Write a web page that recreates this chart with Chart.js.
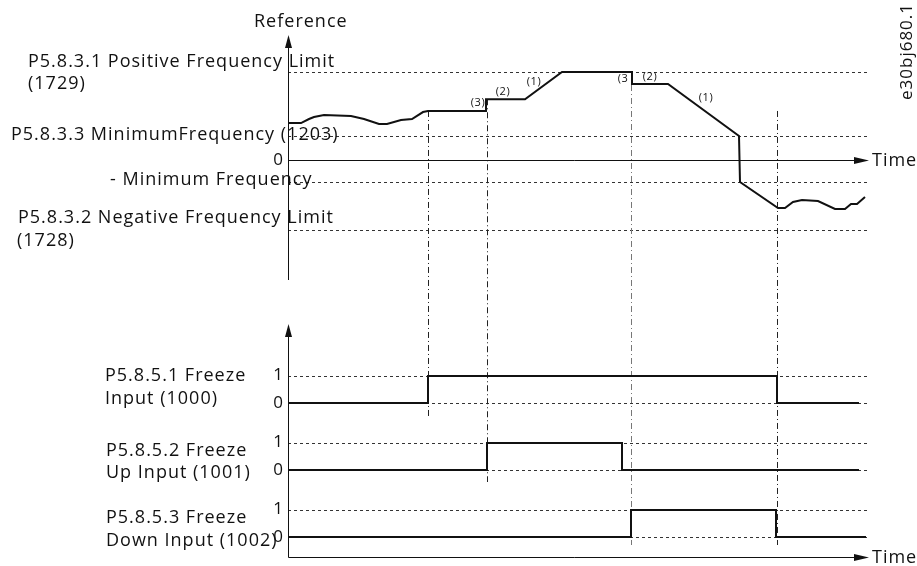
<!DOCTYPE html>
<html>
<head>
<meta charset="utf-8">
<script src="https://cdn.jsdelivr.net/npm/chart.js@4.4.1/dist/chart.umd.min.js"></script>
<style>
  body { margin: 0; background: #fff; }
  #wrap { width: 917px; height: 566px; }
</style>
</head>
<body>
<div id="wrap"><canvas id="grafico" width="917" height="566"></canvas></div>
<script>
// reference signal (positive frequency limit = 100)
const refTime  = [0, 13, 21, 26, 36, 63, 76, 91, 99, 113, 124, 135, 140, 198, 198, 237, 274, 344, 344, 380, 451, 452, 490, 497, 505, 514, 530, 547, 557, 563, 569, 577];
const refValue = [42, 42, 46.6, 48.9, 51.1, 50, 46.6, 40.9, 40.9, 45.5, 46.6, 54.5, 55.7, 55.7, 69, 69, 100, 100, 86.4, 86.4, 27.3, -25, -54.5, -54.5, -47.7, -45.5, -46.6, -55.7, -55.7, -50, -50, -42];

// frequency levels on the reference axis
const levelNames  = ["posLimit", "minFreq", "negMinFreq", "negLimit"];
const levelValues = [100, 27, -25, -79];

// digital inputs
const freezeTime  = [0, 140, 489, 571];
const freezeLevel = [0, 1, 0, 0];
const upTime      = [0, 199, 334, 571];
const upLevel     = [0, 1, 0, 0];
const downTime    = [0, 343, 488, 578];
const downLevel   = [0, 1, 0, 0];

// moments where the inputs switch (dash-dot markers)
const eventTime  = [140, 199, 343, 489];
const eventFrom  = [55.7, 69, 100, 55.7];
const eventUntil = ["yS1", "yS2", "yS3", "yS3"];

const maxTime = 579;

const FONT = "'Open Sans', 'Noto Sans', sans-serif";
const INK = "#111";

// chart area in pixels
const area = { top: 35, bottom: 557, left: 288, right: 867 };

// linear range so that value a sits at pixel pa and b at pb
function fit(a, pa, b, pb) {
  const k = (pa - pb) / (b - a);
  return { min: a - (area.bottom - pa) / k, max: a + (pa - area.top) / k };
}

const rRef = fit(0, 160, 100, 72);
const rS1 = fit(0, 403, 1, 376);
const rS2 = fit(0, 470, 1, 443);
const rS3 = fit(0, 537, 1, 510);

const pts = (xs, ys) => xs.map((x, i) => ({ x: x, y: ys[i] }));

function arrow(ctx, x, y, dir) {
  ctx.beginPath();
  if (dir === "up") {
    ctx.moveTo(x, y); ctx.lineTo(x - 3.5, y + 13); ctx.lineTo(x + 3.5, y + 13);
  } else {
    ctx.moveTo(x, y); ctx.lineTo(x - 15, y - 3.5); ctx.lineTo(x - 15, y + 3.5);
  }
  ctx.closePath();
  ctx.fill();
}

function hline(ctx, y, x0, x1, dash, color) {
  ctx.save();
  ctx.strokeStyle = color;
  ctx.lineWidth = 1;
  ctx.setLineDash(dash);
  ctx.beginPath();
  ctx.moveTo(x0, Math.round(y) + 0.5);
  ctx.lineTo(x1, Math.round(y) + 0.5);
  ctx.stroke();
  ctx.restore();
}

const guides = {
  id: "guides",
  beforeDatasetsDraw(chart) {
    const ctx = chart.ctx;
    const x = chart.scales.x, yr = chart.scales.yRef;
    const x0 = x.getPixelForValue(0), x1 = x.getPixelForValue(maxTime);

    levelValues.forEach(v => hline(ctx, yr.getPixelForValue(v), x0, x1, [3, 3], "#333"));
    ["yS1", "yS2", "yS3"].forEach(id => {
      const s = chart.scales[id];
      hline(ctx, s.getPixelForValue(1), x0, x1, [3, 3], "#333");
      hline(ctx, s.getPixelForValue(0), x0, x1, [3, 3], "#333");
    });

    // switching markers
    eventTime.forEach((t, i) => {
      const px = Math.round(x.getPixelForValue(t)) + 0.5;
      const ya = yr.getPixelForValue(eventFrom[i]);
      const yb = chart.scales[eventUntil[i]].getPixelForValue(0) + (i === 1 ? 12 : i === 0 ? 15 : 8);
      ctx.save();
      ctx.strokeStyle = i === 2 ? "#777" : "#222";
      ctx.lineWidth = 1;
      ctx.setLineDash([6, 3, 1, 3]);
      ctx.beginPath();
      ctx.moveTo(px, ya);
      ctx.lineTo(px, yb);
      ctx.stroke();
      ctx.restore();
    });

    // axes
    ctx.save();
    ctx.strokeStyle = INK;
    ctx.fillStyle = INK;
    ctx.lineWidth = 1;
    const ax = Math.round(x0) + 0.5;
    const y0 = Math.round(yr.getPixelForValue(0)) + 0.5;
    ctx.beginPath();
    ctx.moveTo(ax, 40); ctx.lineTo(ax, 280);
    ctx.moveTo(ax, y0); ctx.lineTo(860, y0);
    ctx.moveTo(ax, 330); ctx.lineTo(ax, 557.5);
    ctx.moveTo(ax, 557.5); ctx.lineTo(860, 557.5);
    ctx.stroke();
    arrow(ctx, ax, 35, "up");
    arrow(ctx, ax, 324, "up");
    arrow(ctx, 869, y0, "right");
    arrow(ctx, 869, 557.5, "right");
    ctx.restore();
  },
  afterDraw(chart) {
    const ctx = chart.ctx;
    const yr = chart.scales.yRef;
    ctx.save();
    ctx.fillStyle = INK;
    ctx.font = "18px " + FONT;
    ctx.letterSpacing = "1px";
    ctx.textBaseline = "middle";

    ctx.textAlign = "left";
    const texts = [
      ["Reference", 254, 22],
      ["P5.8.3.1 Positive Frequency Limit", 28, 62],
      ["(1729)", 28, 84],
      ["P5.8.3.3 MinimumFrequency (1203)", 11, 135],
      ["- Minimum Frequency", 110, 180],
      ["P5.8.3.2 Negative Frequency Limit", 18, 218],
      ["(1728)", 17, 241],
      ["P5.8.5.1 Freeze", 105, 376],
      ["Input (1000)", 105, 399],
      ["P5.8.5.2 Freeze", 106, 451],
      ["Up Input (1001)", 106, 473],
      ["P5.8.5.3 Freeze", 106, 518],
      ["Down Input (1002)", 106, 541],
      ["Time", 872, 161],
      ["Time", 872, 558]
    ];
    texts.forEach(t => ctx.fillText(t[0], t[1], t[2]));

    ctx.letterSpacing = "0px";
    ctx.font = "17px " + FONT;
    ctx.textAlign = "right";
    ctx.fillText("0", 283, yr.getPixelForValue(0));
    ["yS1", "yS2", "yS3"].forEach(id => {
      const s = chart.scales[id];
      ctx.fillText("1", 283, s.getPixelForValue(1) - 1);
      ctx.fillText("0", 283, s.getPixelForValue(0));
    });

    // ramp / step markers
    ctx.font = "11px " + FONT;
    ctx.letterSpacing = "0.5px";
    ctx.textAlign = "center";
    [["(3)", 478, 103], ["(2)", 503, 92], ["(1)", 534, 82],
     ["(3", 623, 79], ["(2)", 650, 77], ["(1)", 706, 98]]
      .forEach(t => ctx.fillText(t[0], t[1], t[2]));

    // drawing number
    ctx.font = "17px " + FONT;
    ctx.letterSpacing = "1px";
    ctx.textAlign = "left";
    ctx.textBaseline = "alphabetic";
    ctx.translate(912, 100);
    ctx.rotate(-Math.PI / 2);
    ctx.fillText("e30bj680.1", 0, 0);
    ctx.restore();
  }
};

const line = (data, axis, extra) => Object.assign({
  data: data,
  yAxisID: axis,
  showLine: true,
  borderColor: INK,
  borderWidth: 2,
  pointRadius: 0,
  fill: false,
  clip: false
}, extra || {});

new Chart(document.querySelector("#grafico"), {
  type: "scatter",
  data: {
    datasets: [
      line(pts(refTime, refValue), "yRef"),
      line(pts(freezeTime, freezeLevel), "yS1", { stepped: true }),
      line(pts(upTime, upLevel), "yS2", { stepped: true }),
      line(pts(downTime, downLevel), "yS3", { stepped: true })
    ]
  },
  options: {
    responsive: false,
    animation: false,
    layout: { padding: { top: area.top, bottom: 566 - area.bottom, left: area.left, right: 917 - area.right } },
    plugins: { legend: { display: false }, tooltip: { enabled: false } },
    scales: {
      x: { type: "linear", min: 0, max: maxTime, display: false },
      yRef: { type: "linear", min: rRef.min, max: rRef.max, display: false },
      yS1: { type: "linear", min: rS1.min, max: rS1.max, display: false },
      yS2: { type: "linear", min: rS2.min, max: rS2.max, display: false },
      yS3: { type: "linear", min: rS3.min, max: rS3.max, display: false }
    }
  },
  plugins: [guides]
});
</script>
</body>
</html>
